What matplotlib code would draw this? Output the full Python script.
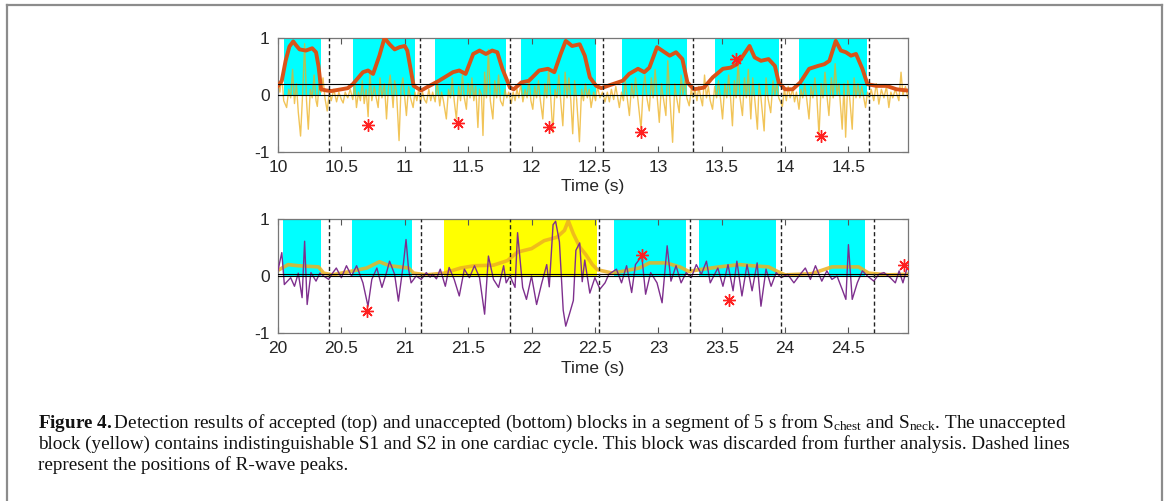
import numpy as np
import matplotlib
matplotlib.use('Agg')
import matplotlib.pyplot as plt
from matplotlib.lines import Line2D

plt.rcParams['font.family'] = ['Liberation Sans', 'DejaVu Sans']
plt.rcParams['axes.unicode_minus'] = False
plt.rcParams['mathtext.fontset'] = 'custom'
plt.rcParams['mathtext.rm'] = 'Liberation Serif'
plt.rcParams['mathtext.bf'] = 'Liberation Serif:bold'
plt.rcParams['mathtext.it'] = 'Liberation Serif:italic'

# ---- top panel (accepted blocks) ----
top_blocks = [(10.05, 10.34), (10.59, 11.08), (11.24, 11.80), (11.92, 12.51),
              (12.71, 13.23), (13.45, 13.95), (14.11, 14.65)]
top_rpeaks = [10.40, 11.12, 11.83, 12.56, 13.27, 13.97, 14.66]
top_star_t = [10.71, 11.42, 12.14, 12.86, 13.61, 14.28]
top_star_v = [-0.53, -0.49, -0.57, -0.65, 0.64, -0.72]
top_thresh = 0.2

top_env = [
    (10.00, 0.16), (10.03, 0.25), (10.06, 0.60), (10.09, 0.85), (10.12, 0.94),
    (10.14, 0.88), (10.17, 0.80), (10.22, 0.78), (10.27, 0.82), (10.30, 0.75),
    (10.32, 0.50), (10.34, 0.10), (10.38, 0.08), (10.42, 0.07), (10.50, 0.10),
    (10.55, 0.12), (10.59, 0.19), (10.67, 0.40), (10.71, 0.43), (10.75, 0.37),
    (10.80, 0.69), (10.84, 1.00), (10.88, 0.89), (10.92, 0.80), (10.96, 0.84),
    (11.00, 0.86), (11.02, 0.78), (11.07, 0.16), (11.13, 0.08), (11.17, 0.13),
    (11.27, 0.25), (11.38, 0.40), (11.43, 0.43), (11.48, 0.37), (11.54, 0.72),
    (11.59, 0.78), (11.64, 0.72), (11.69, 0.78), (11.73, 0.75), (11.77, 0.46),
    (11.83, 0.13), (11.86, 0.10), (11.92, 0.22), (11.98, 0.25), (12.06, 0.43),
    (12.13, 0.46), (12.18, 0.40), (12.23, 0.72), (12.27, 0.95), (12.32, 0.86),
    (12.38, 0.89), (12.42, 0.69), (12.46, 0.31), (12.51, 0.16), (12.55, 0.12),
    (12.64, 0.19), (12.72, 0.25), (12.77, 0.37), (12.84, 0.46), (12.89, 0.40),
    (12.93, 0.48), (12.99, 0.84), (13.05, 0.75), (13.09, 0.69), (13.14, 0.75),
    (13.19, 0.63), (13.23, 0.22), (13.28, 0.10), (13.36, 0.13), (13.43, 0.31),
    (13.51, 0.46), (13.57, 0.48), (13.62, 0.54), (13.66, 0.66), (13.72, 0.86),
    (13.76, 0.66), (13.81, 0.60), (13.87, 0.63), (13.92, 0.51), (13.95, 0.22),
    (14.00, 0.10), (14.06, 0.10), (14.12, 0.22), (14.19, 0.46), (14.26, 0.51),
    (14.31, 0.54), (14.35, 0.60), (14.40, 0.95), (14.44, 0.78), (14.48, 0.75),
    (14.52, 0.69), (14.56, 0.72), (14.61, 0.46), (14.65, 0.19), (14.72, 0.16),
    (14.80, 0.16), (14.88, 0.10), (14.96, 0.08),
]

top_sig = [
    (10.000, 0.30), (10.015, 0.05), (10.030, 0.35), (10.045, -0.10), (10.068, -0.22),
    (10.085, 0.10), (10.100, -0.05), (10.115, 0.45), (10.130, -0.15), (10.145, 0.20),
    (10.160, -0.30), (10.178, -0.72), (10.195, 0.05), (10.210, 0.90), (10.225, -0.10),
    (10.239, -0.60), (10.255, 0.10), (10.270, -0.05), (10.285, 0.35), (10.300, -0.10),
    (10.310, -0.20), (10.325, 0.20), (10.340, 0.05), (10.355, 0.30), (10.370, -0.05),
    (10.388, -0.28), (10.405, 0.05), (10.420, -0.10), (10.440, 0.10), (10.462, -0.12),
    (10.480, 0.05), (10.500, -0.08), (10.514, -0.14), (10.530, 0.05), (10.550, -0.05),
    (10.570, 0.10), (10.590, -0.08), (10.605, 0.20), (10.619, -0.22), (10.635, 0.05),
    (10.650, -0.10), (10.665, 0.25), (10.680, -0.15), (10.695, 0.10), (10.711, -0.38),
    (10.725, 0.40), (10.740, -0.10), (10.760, 0.15), (10.775, -0.05), (10.790, -0.22),
    (10.805, 0.30), (10.820, -0.05), (10.840, 0.20), (10.856, -0.42), (10.870, 0.10),
    (10.885, 0.35), (10.900, 0.00), (10.908, -0.22), (10.920, 0.25), (10.935, 0.05),
    (10.955, -0.80), (10.970, 0.10), (10.985, 0.30), (11.000, -0.05), (11.013, -0.36),
    (11.030, 0.15), (11.045, -0.05), (11.066, -0.22), (11.080, 0.05), (11.095, -0.10),
    (11.110, 0.10), (11.125, -0.12), (11.140, 0.05), (11.155, -0.08), (11.171, -0.14),
    (11.190, 0.10), (11.205, -0.10), (11.220, 0.05), (11.240, -0.12), (11.255, 0.25),
    (11.276, -0.19), (11.290, 0.05), (11.305, -0.10), (11.328, -0.42), (11.345, 0.10),
    (11.360, -0.05), (11.375, 0.30), (11.390, -0.10), (11.407, -0.42), (11.425, 0.15),
    (11.440, -0.10), (11.455, 0.35), (11.470, -0.05), (11.486, -0.25), (11.500, 0.20),
    (11.515, -0.05), (11.530, 0.30), (11.545, -0.10), (11.560, 0.15), (11.577, -0.57),
    (11.590, 0.10), (11.605, 0.00), (11.617, -0.71), (11.630, 0.40), (11.645, -0.05),
    (11.660, 0.80), (11.675, -0.10), (11.695, -0.42), (11.710, 0.25), (11.725, -0.05),
    (11.740, 0.35), (11.755, -0.10), (11.774, -0.19), (11.790, 0.10), (11.805, -0.05),
    (11.820, 0.05), (11.840, -0.15), (11.855, 0.05), (11.870, -0.10), (11.885, 0.10),
    (11.900, -0.05), (11.915, 0.20), (11.932, -0.12), (11.950, 0.10), (11.965, -0.05),
    (11.980, 0.30), (11.995, -0.10), (12.010, -0.25), (12.025, 0.15), (12.040, -0.05),
    (12.055, 0.25), (12.070, -0.10), (12.089, -0.42), (12.105, 0.20), (12.120, -0.05),
    (12.135, 0.45), (12.150, 0.00), (12.168, -0.66), (12.185, 0.10), (12.200, -0.05),
    (12.215, 0.35), (12.230, -0.10), (12.247, -0.54), (12.265, 0.40), (12.280, -0.05),
    (12.295, 0.30), (12.310, -0.10), (12.325, -0.68), (12.340, 0.25), (12.355, -0.05),
    (12.378, -0.82), (12.395, 0.10), (12.410, -0.10), (12.425, 0.20), (12.440, -0.05),
    (12.455, 0.10), (12.470, -0.22), (12.490, 0.05), (12.505, -0.10), (12.520, 0.15),
    (12.540, -0.05), (12.560, 0.05), (12.580, -0.12), (12.598, 0.05), (12.614, -0.12),
    (12.630, 0.10), (12.648, -0.08), (12.665, 0.15), (12.693, -0.22), (12.710, 0.05),
    (12.725, -0.10), (12.740, 0.25), (12.755, -0.05), (12.772, -0.36), (12.790, 0.20),
    (12.805, -0.05), (12.820, 0.30), (12.840, -0.10), (12.864, -0.60), (12.880, 0.10),
    (12.895, 0.35), (12.910, -0.05), (12.929, -0.28), (12.945, 0.30), (12.960, -0.05),
    (12.975, 0.45), (12.990, 0.00), (13.008, -0.48), (13.025, 0.20), (13.040, -0.05),
    (13.060, -0.36), (13.075, 0.60), (13.090, 0.00), (13.113, -0.83), (13.130, 0.20),
    (13.145, -0.05), (13.165, -0.31), (13.180, 0.35), (13.195, 0.00), (13.210, 0.25),
    (13.225, -0.05), (13.244, -0.19), (13.260, 0.10), (13.275, -0.05), (13.290, 0.10),
    (13.305, -0.10), (13.320, 0.15), (13.335, -0.05), (13.349, -0.19), (13.365, 0.35),
    (13.380, -0.05), (13.395, 0.15), (13.410, -0.10), (13.428, -0.25), (13.445, 0.15),
    (13.460, -0.05), (13.475, 0.25), (13.490, -0.05), (13.507, -0.42), (13.525, 0.20),
    (13.540, -0.05), (13.555, 0.35), (13.570, -0.05), (13.585, -0.54), (13.600, 0.25),
    (13.615, -0.05), (13.630, 0.60), (13.645, -0.05), (13.664, -0.36), (13.680, 0.30),
    (13.695, -0.05), (13.710, 0.45), (13.720, 0.00), (13.730, -0.42), (13.745, 0.30),
    (13.760, -0.05), (13.782, -0.60), (13.795, 0.20), (13.810, -0.05), (13.835, -0.63),
    (13.850, 0.30), (13.865, -0.05), (13.887, -0.31), (13.905, 0.25), (13.920, 0.00),
    (13.935, 0.20), (13.950, -0.05), (13.979, -0.20), (13.995, 0.10), (14.010, -0.10),
    (14.025, 0.15), (14.040, -0.05), (14.060, 0.10), (14.075, -0.12), (14.090, 0.05),
    (14.110, -0.25), (14.125, 0.10), (14.140, -0.05), (14.155, 0.20), (14.170, -0.05),
    (14.189, -0.42), (14.205, 0.15), (14.220, -0.05), (14.235, 0.30), (14.250, 0.00),
    (14.268, -0.71), (14.285, 0.20), (14.300, -0.05), (14.315, 0.40), (14.330, 0.00),
    (14.346, -0.36), (14.365, 0.30), (14.380, -0.05), (14.395, 0.55), (14.410, 0.00),
    (14.425, 0.20), (14.451, -0.60), (14.465, 0.20), (14.478, -0.74), (14.495, 0.25),
    (14.510, -0.05), (14.530, -0.60), (14.545, 0.30), (14.560, -0.05), (14.575, 0.20),
    (14.590, -0.05), (14.605, 0.15), (14.635, -0.22), (14.650, 0.05), (14.665, -0.05),
    (14.680, 0.10), (14.700, -0.10), (14.720, 0.20), (14.740, -0.16), (14.760, 0.10),
    (14.780, -0.05), (14.800, 0.15), (14.819, -0.22), (14.835, 0.05), (14.850, -0.05),
    (14.870, 0.10), (14.898, -0.10), (14.915, 0.40), (14.930, 0.00), (14.950, 0.15),
    (14.970, -0.05),
]

# ---- bottom panel (unaccepted block in yellow) ----
bot_blocks = [(20.04, 20.34), (20.58, 21.06), (22.65, 23.22), (23.32, 23.93), (24.35, 24.63)]
bot_reject = [(21.31, 22.52)]
bot_rpeaks = [20.40, 21.13, 21.83, 22.53, 23.25, 23.97, 24.70]
bot_star_t = [20.70, 22.87, 23.56, 24.94]
bot_star_v = [-0.61, 0.37, -0.42, 0.20]
bot_thresh = 0.03

bot_env = [
    (20.00, 0.10), (20.08, 0.20), (20.16, 0.18), (20.32, 0.16), (20.36, 0.05),
    (20.43, 0.02), (20.57, 0.08), (20.70, 0.14), (20.80, 0.25), (20.88, 0.18),
    (20.96, 0.16), (21.03, 0.14), (21.07, 0.05), (21.17, 0.02), (21.31, 0.05),
    (21.44, 0.14), (21.55, 0.18), (21.70, 0.19), (21.81, 0.27), (21.89, 0.42),
    (22.00, 0.48), (22.10, 0.62), (22.20, 0.68), (22.26, 0.80), (22.29, 0.97),
    (22.33, 0.74), (22.38, 0.51), (22.43, 0.37), (22.48, 0.20), (22.52, 0.11),
    (22.64, 0.05), (22.85, 0.14), (22.93, 0.23), (23.06, 0.23), (23.17, 0.16),
    (23.24, 0.08), (23.32, 0.11), (23.48, 0.16), (23.64, 0.20), (23.74, 0.18),
    (23.87, 0.16), (23.94, 0.08), (24.00, 0.02), (24.21, 0.04), (24.37, 0.16),
    (24.48, 0.16), (24.58, 0.16), (24.66, 0.05), (24.82, 0.02), (24.96, 0.03),
]

bot_sig = [
    (20.00, 0.10), (20.03, 0.41), (20.05, -0.15), (20.10, -0.03), (20.13, -0.18),
    (20.16, 0.05), (20.19, -0.38), (20.21, 0.61), (20.23, -0.50), (20.26, 0.06),
    (20.30, -0.09), (20.33, 0.05), (20.36, 0.00), (20.40, -0.06), (20.43, 0.05),
    (20.46, 0.14), (20.50, -0.03), (20.54, 0.18), (20.58, 0.00), (20.62, 0.18),
    (20.67, -0.12), (20.71, -0.53), (20.74, -0.06), (20.78, 0.14), (20.82, -0.20),
    (20.86, 0.09), (20.88, 0.26), (20.92, 0.03), (20.95, -0.44), (20.99, 0.23),
    (21.01, 0.64), (21.03, 0.12), (21.05, -0.12), (21.09, 0.00), (21.13, -0.06),
    (21.17, 0.06), (21.20, -0.02), (21.22, 0.03), (21.25, -0.05), (21.28, 0.12),
    (21.32, -0.18), (21.35, 0.15), (21.39, -0.06), (21.43, -0.35), (21.47, 0.12),
    (21.51, -0.03), (21.55, 0.18), (21.59, -0.03), (21.63, -0.67), (21.66, 0.35),
    (21.70, -0.06), (21.74, -0.20), (21.78, 0.18), (21.80, -0.12), (21.83, 0.00),
    (21.87, -0.20), (21.89, 0.76), (21.93, -0.20), (21.96, -0.41), (22.00, 0.00),
    (22.04, -0.50), (22.08, -0.13), (22.12, 0.20), (22.14, -0.19), (22.17, 0.90),
    (22.19, 0.96), (22.22, 0.60), (22.25, -0.60), (22.27, -0.88), (22.30, -0.66),
    (22.33, -0.43), (22.35, 0.45), (22.38, 0.58), (22.40, -0.10), (22.42, 0.28),
    (22.46, -0.30), (22.50, -0.03), (22.54, -0.23), (22.58, -0.12), (22.61, 0.03),
    (22.67, 0.12), (22.71, -0.12), (22.75, 0.18), (22.79, -0.29), (22.82, 0.20),
    (22.87, 0.35), (22.90, -0.32), (22.94, 0.06), (22.99, -0.12), (23.03, -0.47),
    (23.07, 0.53), (23.10, -0.09), (23.14, 0.18), (23.18, -0.12), (23.22, 0.06),
    (23.26, -0.03), (23.30, 0.20), (23.34, 0.03), (23.38, 0.26), (23.41, -0.12),
    (23.47, 0.14), (23.51, -0.18), (23.55, 0.20), (23.59, -0.26), (23.62, 0.26),
    (23.66, -0.35), (23.70, 0.20), (23.74, -0.26), (23.78, 0.23), (23.81, -0.53),
    (23.85, 0.12), (23.89, -0.18), (23.93, 0.06), (23.97, -0.03), (24.02, 0.03),
    (24.07, -0.12), (24.12, 0.03), (24.16, 0.14), (24.20, -0.06), (24.24, 0.18),
    (24.29, -0.09), (24.33, 0.09), (24.37, -0.06), (24.41, 0.00), (24.45, -0.23),
    (24.48, -0.41), (24.50, 0.55), (24.53, -0.41), (24.57, -0.12), (24.61, 0.09),
    (24.65, 0.00), (24.70, -0.09), (24.74, 0.03), (24.78, 0.06), (24.83, -0.03),
    (24.87, -0.12), (24.90, 0.09), (24.93, -0.12), (24.96, 0.12),
]

caption = [
    r"$\mathbf{Figure\ 4.}$Detection results of accepted (top) and unaccepted (bottom) blocks in a segment of 5 s from S$_\mathrm{chest}$ and S$_\mathrm{neck}$. The unaccepted",
    "block (yellow) contains indistinguishable S1 and S2 in one cardiac cycle. This block was discarded from further analysis. Dashed lines",
    "represent the positions of R-wave peaks.",
]

W, H = 1167, 501
fig = plt.figure(figsize=(W / 100, H / 100), dpi=100)

CYAN = '#00FFFF'
YELLOW = '#FFFF00'


def panel(ax, start, blocks, reject, rpeaks, sig, env, env_color, sig_color, sig_alpha,
          star_t, star_v, thresh):
    for a, b in blocks:
        ax.fill_between([a, b], 0, 1, color=CYAN, lw=0, zorder=1)
    for a, b in reject:
        ax.fill_between([a, b], 0, 1, color=YELLOW, lw=0, zorder=1)
    st, sv = np.array(sig).T
    et, ev = np.array(env).T
    if env_color == '#D95319':
        ax.plot(st, sv, color=sig_color, lw=1.0, alpha=sig_alpha, zorder=2)
        ax.plot(et, ev, color=env_color, lw=2.8, zorder=3)
    else:
        ax.plot(et, ev, color=env_color, lw=2.6, alpha=0.85, zorder=2)
        ax.plot(st, sv, color=sig_color, lw=1.0, alpha=sig_alpha, zorder=3)
    ax.axhline(0, color='black', lw=0.8, zorder=4)
    ax.axhline(thresh, color='black', lw=0.8, zorder=4)
    for r in rpeaks:
        ax.axvline(r, color='#222222', lw=1.0, dashes=(3, 2), zorder=5)
    ax.plot(star_t, star_v, ls='none', marker=(8, 2, 0), ms=9, mew=1.0,
            color='#FF2020', zorder=6)
    ax.set_xlim(start, start + 4.97)
    ax.set_ylim(-1, 1)
    xt = np.arange(start, start + 4.6, 0.5)
    ax.set_xticks(xt)
    ax.set_xticklabels(['%g' % v for v in xt])
    ax.set_yticks([-1, 0, 1])
    ax.set_yticklabels(['-1', '0', '1'])
    ax.tick_params(direction='in', top=True, right=True, length=4, width=0.8,
                   color='#555555', labelsize=12.5, labelcolor='#262626', pad=6)
    for s in ax.spines.values():
        s.set_color('#777777')
        s.set_linewidth(0.9)
    ax.set_xlabel('Time (s)', fontsize=12.5, color='#262626', labelpad=3)


ax1 = fig.add_axes([278 / W, 1 - 152 / H, 630 / W, 114 / H])
panel(ax1, 10, top_blocks, [], top_rpeaks, top_sig, top_env, '#D95319', '#EDB120', 0.75,
      top_star_t, top_star_v, top_thresh)

ax2 = fig.add_axes([278 / W, 1 - 333 / H, 630 / W, 114 / H])
panel(ax2, 20, bot_blocks, bot_reject, bot_rpeaks, bot_sig, bot_env, '#EDB120', '#7E2F8E', 1.0,
      bot_star_t, bot_star_v, bot_thresh)

# caption
baselines = [428, 449, 470]
texts = []
for line, yb in zip(caption, baselines):
    texts.append(fig.text(38 / W, 1 - yb / H, line, fontsize=11.5, va='baseline', ha='left',
                          family='Liberation Serif', color='#111111'))
fig.canvas.draw()
w1 = texts[0].get_window_extent().width
size = 11.5 * 1032 / w1
for t in texts:
    t.set_fontsize(size)

# page frame
frame = dict(color='#8c8c8c', lw=1.6, transform=fig.transFigure)
fig.add_artist(Line2D([7 / W, 1162 / W], [1 - 5 / H, 1 - 5 / H], **frame))
fig.add_artist(Line2D([7 / W, 7 / W], [0, 1 - 5 / H], **frame))
fig.add_artist(Line2D([1162 / W, 1162 / W], [0, 1 - 5 / H], **frame))

fig.savefig('out.png', dpi=100)
